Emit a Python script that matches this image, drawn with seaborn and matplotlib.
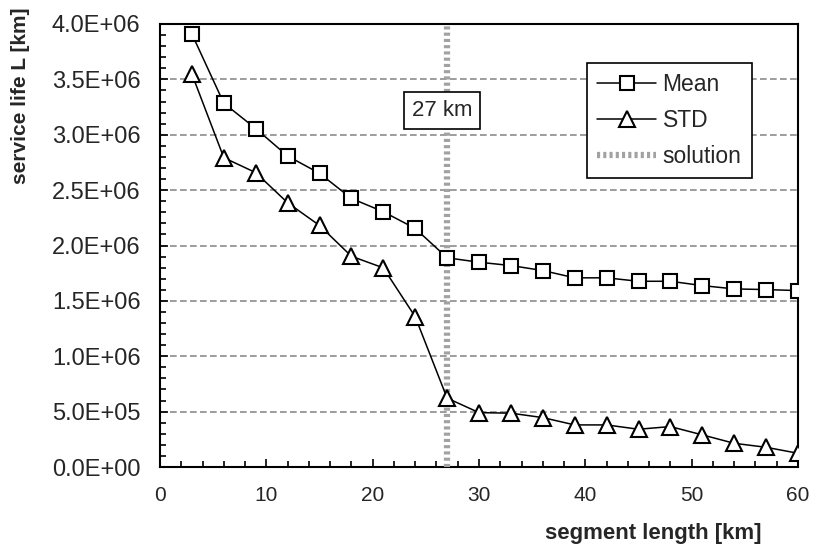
import matplotlib
matplotlib.use("Agg")
import matplotlib.pyplot as plt
import seaborn as sns
import numpy as np
import pandas as pd
from matplotlib.ticker import MultipleLocator, FuncFormatter

# ---- data ----
segment_km = [3, 6, 9, 12, 15, 18, 21, 24, 27, 30, 33, 36, 39, 42, 45, 48, 51, 54, 57, 60]
mean_life = [3.91e6, 3.285e6, 3.056e6, 2.808e6, 2.652e6, 2.425e6, 2.305e6, 2.154e6,
             1.889e6, 1.849e6, 1.819e6, 1.774e6, 1.708e6, 1.708e6, 1.677e6, 1.677e6,
             1.638e6, 1.608e6, 1.602e6, 1.593e6]
std_life = [3.548e6, 2.793e6, 2.658e6, 2.386e6, 2.181e6, 1.903e6, 1.798e6, 1.357e6,
            0.622e6, 0.491e6, 0.486e6, 0.446e6, 0.380e6, 0.380e6, 0.341e6, 0.365e6,
            0.290e6, 0.214e6, 0.178e6, 0.124e6]
solution_km = 27
solution_label = "27 km"
series_names = ["Mean", "STD", "solution"]

sns.set_theme(style="white")
plt.rcParams['font.family'] = ['Liberation Sans', 'DejaVu Sans']

fig = plt.figure(figsize=(8.15, 5.47), dpi=100)
ax = fig.add_axes([160/815, 1-467/547, (798-160)/815, (467-24)/547])

df = pd.DataFrame({"x": segment_km, "Mean": mean_life, "STD": std_life})

ax.axvline(solution_km, color="#a2a2a2", lw=4.5, ls=(0, (0.5, 0.5)), zorder=3,
           label=series_names[2])
sns.lineplot(data=df, x="x", y="Mean", ax=ax, color="black", lw=1.1,
             marker="s", markersize=10, markerfacecolor="white",
             markeredgecolor="black", markeredgewidth=1.5, label=series_names[0], zorder=4)
sns.lineplot(data=df, x="x", y="STD", ax=ax, color="black", lw=1.1,
             marker="^", markersize=11, markerfacecolor="white",
             markeredgecolor="black", markeredgewidth=1.5, label=series_names[1], zorder=4)

ax.set_xlim(0, 60)
ax.set_ylim(0, 4.0e6)
ax.xaxis.set_major_locator(MultipleLocator(10))
ax.xaxis.set_minor_locator(MultipleLocator(2))
ax.yaxis.set_major_locator(MultipleLocator(5e5))
ax.yaxis.set_minor_locator(MultipleLocator(1e5))
ax.yaxis.set_major_formatter(FuncFormatter(lambda v, p: f"{v:.1E}"))

ax.tick_params(axis="both", which="both", direction="in", left=True, bottom=True,
               top=False, right=False, color="black", width=1.2)
ax.tick_params(axis="both", which="major", length=6)
ax.tick_params(axis="both", which="minor", length=4)
ax.tick_params(axis="x", which="major", labelsize=15, pad=14)
ax.tick_params(axis="y", which="major", labelsize=17, pad=14)

ax.grid(False)
ax.yaxis.grid(True, which="major", color="#8c8c8c", ls=(0, (4, 2)), lw=1.2)
ax.set_axisbelow(True)
for s in ax.spines.values():
    s.set_visible(True)
    s.set_color("black")
    s.set_linewidth(1.5)

ax.set_xlabel("")
ax.set_ylabel("")
fig.text(653/815, 1-533/547, "segment length [km]", ha="center", va="center",
         fontsize=16, fontweight="bold")
fig.text(21/815, 1-96/547, "service life L [km]", ha="center", va="center",
         rotation=90, fontsize=15, fontweight="bold")

ax.text(26.5, 3.22e6, solution_label, ha="center", va="center", fontsize=16,
        bbox=dict(boxstyle="square,pad=0.35", facecolor="white", edgecolor="black", lw=1.2),
        zorder=5)

handles, labels = ax.get_legend_handles_labels()
order = [labels.index(n) for n in series_names]
leg = ax.legend([handles[i] for i in order], [labels[i] for i in order],
                loc="upper left", bbox_to_anchor=((587-160)/638, 1-(63-24)/443),
                prop={"size": 16.5}, frameon=True, fancybox=False, edgecolor="black",
                framealpha=1, handlelength=2.55, handletextpad=0.3,
                labelspacing=0.55, borderpad=0.45, borderaxespad=0)
leg.get_frame().set_linewidth(1.2)

fig.savefig("out.png", dpi=100)
